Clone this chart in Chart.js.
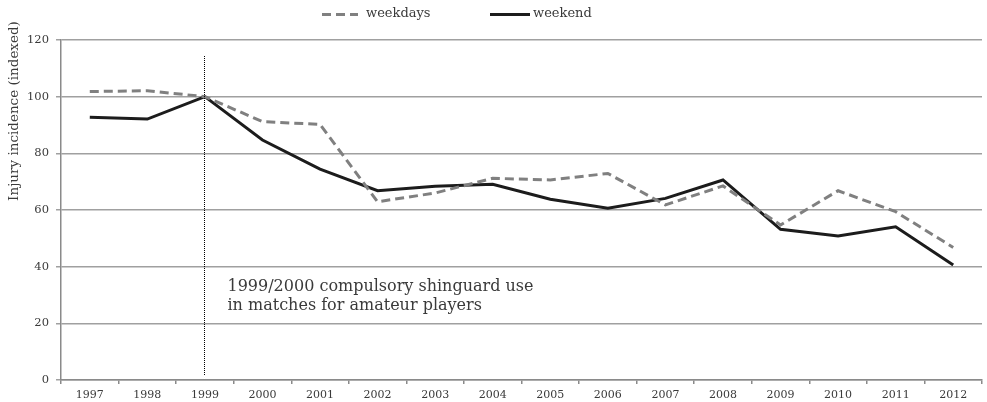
<!DOCTYPE html>
<html>
<head>
<meta charset="utf-8">
<script src="https://cdn.jsdelivr.net/npm/chart.js@4/dist/chart.umd.min.js"></script>
<style>
  html, body { margin: 0; padding: 0; background: #fff; }
  #wrap { width: 987px; height: 402px; position: relative; }
</style>
</head>
<body>
<div id="wrap"><canvas id="c" width="987" height="402"></canvas></div>
<script>
const years = ['1997','1998','1999','2000','2001','2002','2003','2004','2005','2006','2007','2008','2009','2010','2011','2012'];
const weekdays = [101.8, 102.1, 100, 91.2, 90.2, 62.9, 66, 71.2, 70.6, 72.9, 61.8, 68.5, 54.7, 66.8, 59.4, 46.8];
const weekend = [92.7, 92.1, 100, 84.7, 74.4, 66.8, 68.4, 69.1, 63.8, 60.6, 64.1, 70.6, 53.2, 50.8, 54.1, 40.6];
const yTicks = [0, 20, 40, 60, 80, 100, 120];
const yTitle = 'Injury incidence (indexed)';
const noteLines = ['1999/2000 compulsory shinguard use', 'in matches for amateur players'];
const markerYear = '1999';

const FONT = '"DejaVu Serif", serif';
const TXT = '#3a3a3a';

const extras = {
  id: 'extras',
  afterDatasetsDraw(chart) {
    const ctx = chart.ctx;
    const xs = chart.scales.x, ys = chart.scales.y;
    ctx.save();
    // dotted marker line
    const mx = Math.round(xs.getPixelForValue(years.indexOf(markerYear))) - 0.5;
    ctx.fillStyle = '#000';
    const y0 = Math.round(ys.getPixelForValue(114.5));
    const y1 = Math.round(ys.bottom - 5);
    for (let y = y0; y < y1; y += 2) ctx.fillRect(mx - 0.5, y, 1, 1);
    // annotation
    ctx.fillStyle = TXT;
    ctx.font = '16px ' + FONT;
    ctx.textBaseline = 'alphabetic';
    ctx.textAlign = 'left';
    noteLines.forEach((t, i) => ctx.fillText(t, mx + 23, 291 + i * 19));
    // y title
    ctx.save();
    ctx.translate(14, 111);
    ctx.rotate(-Math.PI / 2);
    ctx.textAlign = 'center';
    ctx.textBaseline = 'middle';
    ctx.font = '13.5px ' + FONT;
    ctx.fillText(yTitle, 0, 0);
    ctx.restore();
    // legend
    const ds = chart.data.datasets;
    const items = [{x: 322, w: 36, tx: 366}, {x: 490, w: 40, tx: 533}];
    items.forEach((it, i) => {
      const d = ds[i];
      ctx.strokeStyle = d.borderColor;
      ctx.lineWidth = d.borderWidth;
      ctx.setLineDash(d.borderDash || []);
      ctx.beginPath();
      ctx.moveTo(it.x, 14.5);
      ctx.lineTo(it.x + it.w, 14.5);
      ctx.stroke();
      ctx.setLineDash([]);
      ctx.fillStyle = TXT;
      ctx.font = '13px ' + FONT;
      ctx.textAlign = 'left';
      ctx.textBaseline = 'middle';
      ctx.fillText(d.label, it.tx, 14);
    });
    ctx.restore();
  }
};

new Chart(document.getElementById('c'), {
  type: 'line',
  data: {
    labels: years,
    datasets: [
      { label: 'weekdays', data: weekdays, borderColor: '#808080', borderWidth: 3, borderDash: [9, 5], pointRadius: 0, tension: 0, fill: false },
      { label: 'weekend', data: weekend, borderColor: '#1c1c1c', borderWidth: 3, pointRadius: 0, tension: 0, fill: false }
    ]
  },
  options: {
    responsive: false,
    animation: false,
    layout: { padding: { top: 40, right: 5, left: 0, bottom: 0 } },
    plugins: { legend: { display: false }, tooltip: { enabled: false } },
    scales: {
      x: {
        offset: true,
        grid: { offset: true, drawOnChartArea: false, drawTicks: true, tickLength: 4, color: '#8a8a8a', lineWidth: 1.5 },
        border: { color: '#8a8a8a', width: 1.5 },
        ticks: { color: TXT, font: { family: FONT, size: 11 }, padding: 5, maxRotation: 0, autoSkip: false },
        afterFit(s) { s.height = 22; }
      },
      y: {
        min: 0, max: 120,
        afterBuildTicks(s) { s.ticks = yTicks.map(v => ({ value: v })); },
        grid: { color: '#a0a0a0', lineWidth: 1.5, tickLength: 5, drawTicks: true },
        border: { color: '#8a8a8a', width: 1.5 },
        ticks: { color: TXT, font: { family: FONT, size: 11.5 }, padding: 7 },
        afterFit(s) { s.width = 61; }
      }
    }
  },
  plugins: [extras]
});
</script>
</body>
</html>
